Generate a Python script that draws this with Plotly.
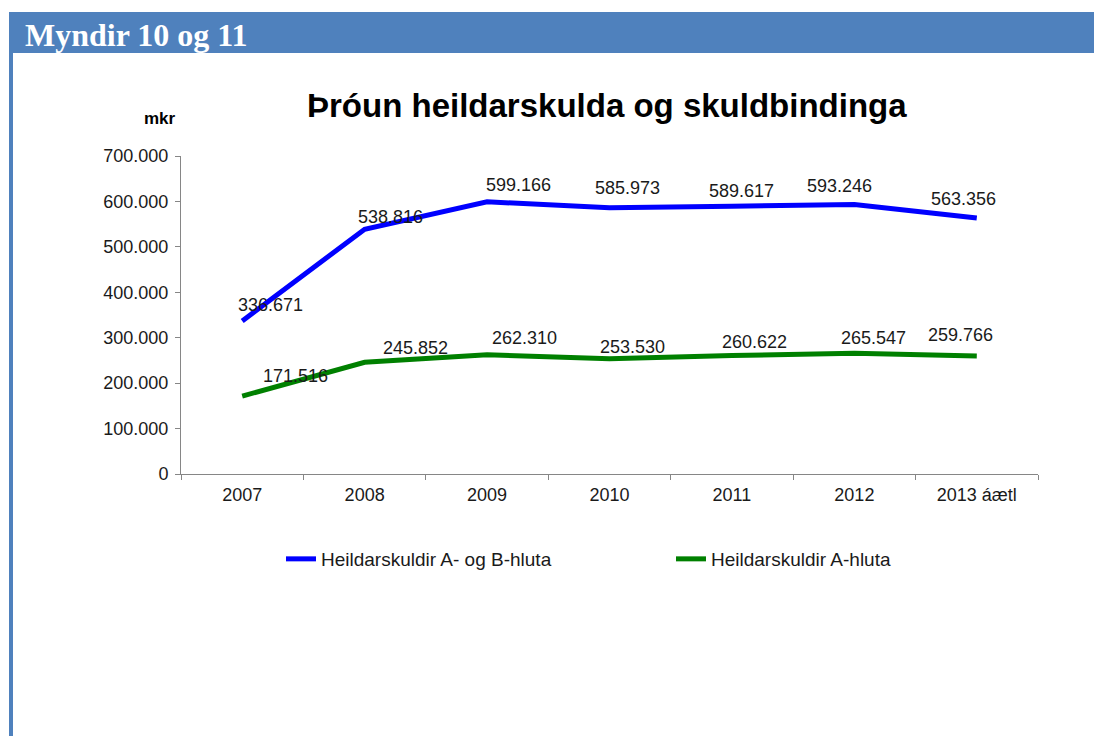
import plotly.graph_objects as go

# ---- data ----
categories = ["2007", "2008", "2009", "2010", "2011", "2012", "2013 áætl"]
total_ab = [336671, 538816, 599166, 585973, 589617, 593246, 563356]
total_a = [171516, 245852, 262310, 253530, 260622, 265547, 259766]
series_names = ["Heildarskuldir A- og B-hluta", "Heildarskuldir A-hluta"]
y_ticks = [0, 100000, 200000, 300000, 400000, 500000, 600000, 700000]

# ---- label offsets (pixels, style only) ----
ab_dx = [28, 26, 31, 18, 10, -15, -13]
ab_dy = [16, 12, 17, 20, 15, 18, 19]
a_dx = [53, 51, 37, 23, 23, 19, -16]
a_dy = [20, 14, 17, 12, 14, 15, 21]

# page has an 8px body margin; figure fills the rest of the window
M = 8
W, H = 1102 - M, 736 - M
FONT = "Liberation Sans, Arial, sans-serif"
TXT = "#1a1a1a"


def px(x):
    return (x - M) / W


def py(y):
    return 1 - (y - M) / H


fig = go.Figure()
fig.add_trace(go.Scatter(x=categories, y=total_ab, mode="lines", name=series_names[0],
                         line=dict(color="#0000FF", width=5)))
fig.add_trace(go.Scatter(x=categories, y=total_a, mode="lines", name=series_names[1],
                         line=dict(color="#008000", width=5)))

annotations = []
for vals, dxs, dys in ((total_ab, ab_dx, ab_dy), (total_a, a_dx, a_dy)):
    for i, (v, dx, dy) in enumerate(zip(vals, dxs, dys)):
        annotations.append(dict(x=i, y=v, xref="x", yref="y", text=f"{v:,}".replace(",", "."),
                                showarrow=False, xshift=dx, yshift=dy,
                                font=dict(family=FONT, size=18, color=TXT)))

# header text, chart title, unit label
annotations.append(dict(x=px(23), y=py(35), xref="paper", yref="paper", xanchor="left",
                        yanchor="middle", showarrow=False, text="<b>Myndir 10 og 11</b>",
                        font=dict(family="Liberation Serif, Times New Roman, serif", size=32, color="white")))
annotations.append(dict(x=px(607), y=py(106), xref="paper", yref="paper", xanchor="center",
                        yanchor="middle", showarrow=False, text="<b>Þróun heildarskulda og skuldbindinga</b>",
                        font=dict(family=FONT, size=33, color="black")))
annotations.append(dict(x=px(160), y=py(118), xref="paper", yref="paper", xanchor="center",
                        yanchor="middle", showarrow=False, text="<b>mkr</b>",
                        font=dict(family=FONT, size=17, color="black")))

shapes = [
    dict(type="rect", xref="paper", yref="paper", x0=px(9), x1=1, y0=py(53), y1=py(12),
         fillcolor="#4F81BD", line=dict(width=0), layer="below"),
    dict(type="rect", xref="paper", yref="paper", x0=px(9), x1=px(13), y0=0, y1=py(53),
         fillcolor="#4F81BD", line=dict(width=0), layer="below"),
]

fig.update_layout(
    width=W, height=H,
    margin=dict(l=0, r=0, t=0, b=0, autoexpand=False),
    paper_bgcolor="white", plot_bgcolor="white",
    separators=",.",
    showlegend=True,
    legend=dict(orientation="h", x=px(281), y=py(559), xanchor="left", yanchor="middle",
                entrywidth=345, entrywidthmode="pixels",
                font=dict(family=FONT, size=19, color=TXT), bgcolor="rgba(0,0,0,0)"),
    annotations=annotations,
    shapes=shapes,
    xaxis=dict(domain=[px(181), px(1038)], type="category", range=[-0.5, 6.5],
               showline=True, linecolor="#868686", linewidth=1,
               ticks="outside", tickson="boundaries", ticklen=5, tickcolor="#868686",
               ticklabelstandoff=4,
               showgrid=False, zeroline=False,
               tickfont=dict(family=FONT, size=18, color=TXT)),
    yaxis=dict(domain=[py(474), py(156)], range=[0, 700000], tickvals=y_ticks,
               tickformat=",d", showline=True, linecolor="#868686", linewidth=1,
               ticks="outside", ticklen=5, tickcolor="#868686", ticklabelstandoff=3,
               showgrid=False, zeroline=False,
               tickfont=dict(family=FONT, size=18, color=TXT)),
)

fig.write_html("out.html")
